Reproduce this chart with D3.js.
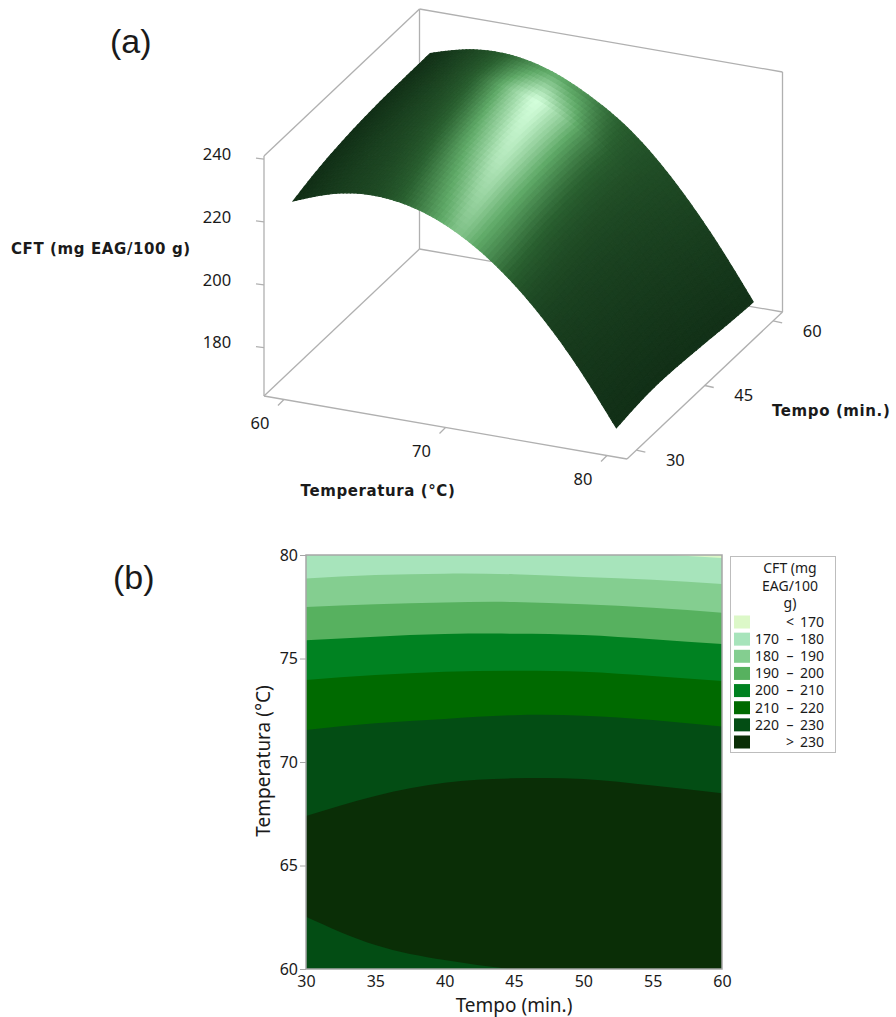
<!DOCTYPE html>
<html>
<head>
<meta charset="utf-8">
<script src="https://cdn.jsdelivr.net/npm/d3@7"></script>
<style>
  body { margin: 0; background: #fff; }
  text { font-family: "Noto Sans", sans-serif; fill: #1a1a1a; }
</style>
</head>
<body>
<div id="chart"></div>
<script>
var width = 896;
var height = 1017;

var temps3d = [60, 62, 64, 66, 68, 70, 72, 74, 76, 78, 80];
var tempos3d = [30, 35, 40, 45, 50, 55, 60];
var cft30 = [225.0, 229.2, 231.4, 231.3, 229.1, 224.7, 218.2, 209.5, 198.7, 185.7, 170.6];
var cft35 = [227.5, 231.6, 233.5, 233.2, 230.9, 226.1, 219.4, 210.5, 199.3, 187.0, 172.0];
var cft40 = [229.0, 233.0, 234.9, 234.6, 232.1, 227.5, 220.7, 211.8, 200.5, 187.3, 172.4];
var cft45 = [230.0, 233.9, 235.6, 235.2, 232.6, 227.8, 220.9, 211.8, 200.6, 187.2, 171.7];
var cft50 = [230.5, 234.3, 235.9, 235.4, 232.7, 227.8, 220.8, 211.7, 200.3, 186.9, 171.0];
var cft55 = [230.6, 234.2, 235.5, 235.0, 232.0, 227.0, 220.0, 210.7, 199.3, 185.7, 170.0];
var cft60 = [230.7, 234.0, 235.2, 234.2, 231.1, 225.8, 219.3, 210.0, 198.3, 184.9, 169.5];
var cftRows = [cft30, cft35, cft40, cft45, cft50, cft55, cft60];

var zTicks = [180, 200, 220, 240];
var tempTicks3d = [60, 70, 80];
var tempoTicks3d = [30, 45, 60];

// (b) contour boundaries: temperature of each level at each tempo
var tempos = [30, 35, 40, 45, 50, 55, 60];
var level170 = [80.6, 80.5, 80.4, 80.3, 80.2, 80.05, 79.85];
var level180 = [78.87, 79.03, 79.10, 79.07, 78.94, 78.81, 78.60];
var level190 = [77.49, 77.62, 77.71, 77.73, 77.62, 77.45, 77.21];
var level200 = [75.88, 76.05, 76.18, 76.20, 76.14, 75.93, 75.70];
var level210 = [73.96, 74.20, 74.36, 74.41, 74.36, 74.15, 73.91];
var level220 = [71.55, 71.87, 72.08, 72.26, 72.24, 72.03, 71.71];
var level230top = [67.39, 68.36, 69.00, 69.21, 69.18, 68.86, 68.49];
var level230low = [62.53, 61.16, 60.43, 59.98, 59.80, 59.80, 59.80];

var legendLabels = [['', '<', '170'], ['170', '–', '180'], ['180', '–', '190'], ['190', '–', '200'],
  ['200', '–', '210'], ['210', '–', '220'], ['220', '–', '230'], ['', '>', '230']];
var legendColors = ['#dcf8c8', '#a7e4bb', '#84ce90', '#57b15f', '#008221', '#006a00', '#034d14', '#0a2e06'];

var svg = d3.select('#chart')
  .append('svg')
  .attr('width', width)
  .attr('height', height)
  .style('display', 'block');

// ---------- (a) ----------
var uScale = d3.scaleLinear().domain([60, 80]).range([0.055, 0.945]);
var vScale = d3.scaleLinear().domain([30, 60]).range([0.06, 0.94]);
var zScale = d3.scaleLinear().domain([164.6, 241]).range([0, -240]);

function project(temp, tempo, z) {
  var u = uScale(temp);
  var v = vScale(tempo);
  return [264 + 363 * u + 155.5 * v, 396 + 63 * u - 147 * v + zScale(z)];
}

function corner(u, v, up) {
  return [264 + 363 * u + 155.5 * v, 396 + 63 * u - 147 * v - up];
}

var boxLines = [
  [corner(0, 1, 240), corner(1, 1, 240)],
  [corner(0, 1, 240), corner(0, 0, 240)],
  [corner(0, 1, 240), corner(0, 1, 0)],
  [corner(1, 1, 240), corner(1, 1, 0)],
  [corner(0, 0, 240), corner(0, 0, 0)],
  [corner(0, 0, 0), corner(0, 1, 0)],
  [corner(0, 1, 0), corner(1, 1, 0)],
  [corner(0, 0, 0), corner(1, 0, 0)],
  [corner(1, 0, 0), corner(1, 1, 0)]
];

var lineGen = d3.line();
var box = svg.append('g').attr('fill', 'none').attr('stroke', '#b0b0b0').attr('stroke-width', 1.3);
box.selectAll('path').data(boxLines).enter().append('path').attr('d', lineGen);

// axis ticks on the box
zTicks.forEach(function(z) {
  var y = 396 + zScale(z);
  box.append('path').attr('d', lineGen([[256, y - 1], [264, y]]));
  svg.append('text').attr('x', 217).attr('y', y - 5)
    .attr('dy', '0.35em').attr('text-anchor', 'middle').attr('font-size', 16.5).text(z);
});
tempTicks3d.forEach(function(t) {
  var u = uScale(t);
  var p = corner(u, 0, 0);
  box.append('path').attr('d', lineGen([p, [p[0] - 6, p[1] + 6]]));
  svg.append('text').attr('x', p[0] - 24).attr('y', p[1] + 24)
    .attr('dy', '0.35em').attr('text-anchor', 'middle').attr('font-size', 16.5).text(t);
});
tempoTicks3d.forEach(function(t) {
  var v = vScale(t);
  var p = corner(1, v, 0);
  box.append('path').attr('d', lineGen([p, [p[0] + 9, p[1] + 2]]));
  svg.append('text').attr('x', p[0] + 39).attr('y', p[1] + 10)
    .attr('dy', '0.35em').attr('text-anchor', 'middle').attr('font-size', 16.5).text(t);
});

// surface: smooth the table with d3's basis interpolators, then paint quads back to front
var nT = 90;
var nTempo = 36;
var rowFns = cftRows.map(function(row) { return d3.interpolateBasis(row); });
var grid = [];
d3.range(nTempo + 1).forEach(function(j) {
  var s = j / nTempo;
  var col = d3.range(nT + 1).map(function(i) {
    var r = i / nT;
    return d3.interpolateBasis(rowFns.map(function(f) { return f(r); }))(s);
  });
  grid.push(col);
});

var tempAt = d3.scaleLinear().domain([0, nT]).range([60, 80]);
var tempoAt = d3.scaleLinear().domain([0, nTempo]).range([30, 60]);

var diffuse = d3.scaleLinear().domain([60, 63, 67, 70, 74, 80]).range([0.03, 0.16, 0.29, 0.31, 0.2, 0.04]).clamp(true);
var spotGain = d3.scaleLinear().domain([30, 42, 54, 60]).range([0.7, 0.9, 1.02, 0.42]).clamp(true);
var tone = d3.scaleLinear()
  .domain([0, 0.3, 0.6, 1])
  .range(['#0f2a14', '#2a6030', '#60aa68', '#d4ffdc'])
  .clamp(true);

function shade(temp, tempo) {
  var centre = 70.3 - (tempo - 30) * 0.083;
  var d = (temp - centre) / 2.9;
  var thin = (temp - centre) / 0.7;
  var base = diffuse(temp) * (0.72 + 0.28 * (tempo - 30) / 30);
  return tone(base + spotGain(tempo) * (0.62 * Math.exp(-d * d) + 0.08 * Math.exp(-thin * thin)));
}

var quads = [];
for (var j = nTempo - 1; j >= 0; j--) {
  for (var i = 0; i < nT; i++) {
    quads.push({ i: i, j: j });
  }
}

svg.append('g').selectAll('path')
  .data(quads)
  .enter()
  .append('path')
  .attr('d', function(q) {
    var a = project(tempAt(q.i), tempoAt(q.j), grid[q.j][q.i]);
    var b = project(tempAt(q.i + 1), tempoAt(q.j), grid[q.j][q.i + 1]);
    var c = project(tempAt(q.i + 1), tempoAt(q.j + 1), grid[q.j + 1][q.i + 1]);
    var d = project(tempAt(q.i), tempoAt(q.j + 1), grid[q.j + 1][q.i]);
    return lineGen([a, b, c, d]) + 'Z';
  })
  .attr('fill', function(q) { return shade(tempAt(q.i + 0.5), tempoAt(q.j + 0.5)); })
  .attr('stroke', function(q) { return shade(tempAt(q.i + 0.5), tempoAt(q.j + 0.5)); })
  .attr('stroke-width', 1.1);

var boldFont = '"DejaVu Sans", sans-serif';
[[11, 249, 'start', 'CFT (mg EAG/100 g)'], [378, 491, 'middle', 'Temperatura (°C)'], [772, 411, 'start', 'Tempo (min.)']].forEach(function(t) {
  svg.append('text').attr('x', t[0]).attr('y', t[1]).attr('dy', '0.35em').attr('text-anchor', t[2])
    .style('font-family', boldFont).style('letter-spacing', '0.6px')
    .attr('font-size', 15).attr('font-weight', 700).text(t[3]);
});

svg.append('text').attr('x', 110).attr('y', 53).style('font-family', '"Liberation Sans", sans-serif')
  .attr('font-size', 34).text('(a)');
svg.append('text').attr('x', 113).attr('y', 589).style('font-family', '"Liberation Sans", sans-serif')
  .attr('font-size', 34).text('(b)');

// ---------- (b) ----------
var x = d3.scaleLinear().domain([30, 60]).range([306, 722]);
var y = d3.scaleLinear().domain([60, 80]).range([969, 555]);

svg.append('clipPath').attr('id', 'plotClip')
  .append('rect').attr('x', 306).attr('y', 555).attr('width', 416).attr('height', 414);

var plot = svg.append('g').attr('clip-path', 'url(#plotClip)');

plot.append('rect').attr('x', 306).attr('y', 555).attr('width', 416).attr('height', 414)
  .attr('fill', legendColors[1]);

function bandArea(upper, lower) {
  return d3.area()
    .x(function(d) { return x(d); })
    .y0(function(d, i) { return lower ? y(lower[i]) : 969; })
    .y1(function(d, i) { return y(upper[i]); })
    .curve(d3.curveNatural)(tempos);
}

var fills = [
  [level180, null, 2],
  [level190, null, 3],
  [level200, null, 4],
  [level210, null, 5],
  [level220, null, 6],
  [level230top, level230low, 7]
];

// sliver of < 170 sits above level170
plot.append('path')
  .attr('d', bandArea(level170.map(function() { return 81; }), level170))
  .attr('fill', legendColors[0]);

fills.forEach(function(f) {
  plot.append('path').attr('d', bandArea(f[0], f[1])).attr('fill', legendColors[f[2]]);
});

svg.append('rect').attr('x', 306).attr('y', 555).attr('width', 416).attr('height', 414)
  .attr('fill', 'none').attr('stroke', '#a6a6a6').attr('stroke-width', 1.5);

var xAxis = svg.append('g').attr('transform', 'translate(0,969)')
  .call(d3.axisBottom(x).tickValues([30, 35, 40, 45, 50, 55, 60]).tickSize(0).tickPadding(7));
var yAxis = svg.append('g').attr('transform', 'translate(306,0)')
  .call(d3.axisLeft(y).tickValues([60, 65, 70, 75, 80]).tickSize(6).tickPadding(2));
[xAxis, yAxis].forEach(function(a) {
  a.select('.domain').remove();
  a.selectAll('.tick line').attr('stroke', '#a6a6a6');
  a.selectAll('.tick text').attr('font-size', 16).attr('font-family', '"Noto Sans", sans-serif').style('fill', '#1a1a1a');
});

svg.append('text').attr('x', 514).attr('y', 1005).attr('dy', '0.35em').attr('text-anchor', 'middle')
  .attr('font-size', 19).text('Tempo (min.)');
svg.append('text').attr('transform', 'translate(263,761) rotate(-90)').attr('dy', '0.35em')
  .attr('text-anchor', 'middle').attr('font-size', 19).text('Temperatura (°C)');

// legend
svg.append('rect').attr('x', 730.5).attr('y', 556.5).attr('width', 105).attr('height', 196)
  .attr('fill', '#fff').attr('stroke', '#bdbdbd');
['CFT (mg', 'EAG/100', 'g)'].forEach(function(t, i) {
  svg.append('text').attr('x', 790).attr('y', 568 + i * 17.6).attr('dy', '0.35em').attr('text-anchor', 'middle')
    .attr('font-size', 14).text(t);
});

var legendY = d3.scaleLinear().domain([0, 7]).range([622, 742]);
var rows = svg.append('g').selectAll('g').data(legendLabels).enter().append('g')
  .attr('transform', function(d, i) { return 'translate(0,' + legendY(i) + ')'; });
rows.append('rect').attr('x', 734).attr('y', -6.5).attr('width', 16).attr('height', 13)
  .attr('fill', function(d, i) { return legendColors[i]; });
rows.append('text').attr('x', 779).attr('dy', '0.35em').attr('text-anchor', 'end').attr('font-size', 14)
  .text(function(d) { return d[0]; });
rows.append('text').attr('x', 790).attr('dy', '0.35em').attr('text-anchor', 'middle').attr('font-size', 14)
  .text(function(d) { return d[1]; });
rows.append('text').attr('x', 824).attr('dy', '0.35em').attr('text-anchor', 'end').attr('font-size', 14)
  .text(function(d) { return d[2]; });
</script>
</body>
</html>
